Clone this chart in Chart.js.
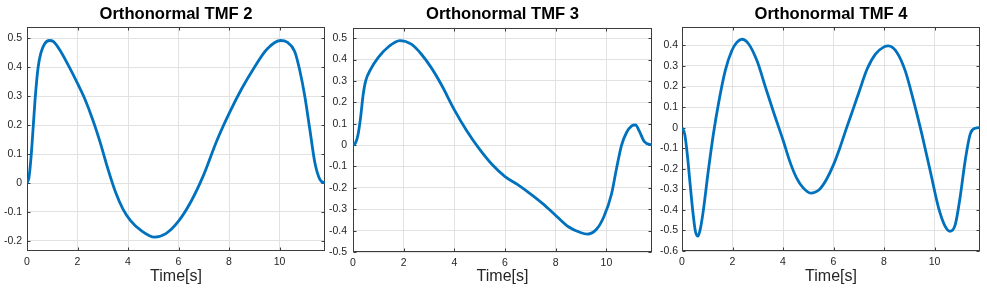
<!DOCTYPE html>
<html>
<head>
<meta charset="utf-8">
<title>Orthonormal TMF</title>
<script src="https://cdn.jsdelivr.net/npm/chart.js@4.4.1/dist/chart.umd.min.js"></script>
<style>
  html, body { margin: 0; padding: 0; background: #fff; }
  #wrap { position: relative; width: 987px; height: 295px; overflow: hidden; }
  canvas { position: absolute; top: 0; }
</style>
</head>
<body>
<div id="wrap">
  <canvas id="tmf2" width="329" height="295" style="left:0px"></canvas>
  <canvas id="tmf3" width="329" height="295" style="left:329px"></canvas>
  <canvas id="tmf4" width="329" height="295" style="left:658px"></canvas>
</div>
<script>
// Shared x axis (seconds)
const xTicks = [0, 2, 4, 6, 8, 10];
const xLimit = 11.8;

// TMF 2
const tmf2Time   = [0, 0.08, 0.17, 0.25, 0.33, 0.44, 0.55, 0.7, 0.88, 1.05, 1.3, 1.68, 2.0, 2.27, 2.6, 2.9, 3.2, 3.5, 3.8, 4.1, 4.5, 5.05, 5.5, 6.0, 6.5, 7.0, 7.5, 8.0, 8.5, 9.0, 9.5, 10.05, 10.3, 10.6, 10.8, 11.0, 11.2, 11.4, 11.6, 11.8];
const tmf2Values = [0, 0.02, 0.1, 0.2, 0.3, 0.4, 0.45, 0.482, 0.493, 0.489, 0.46, 0.4, 0.345, 0.295, 0.22, 0.14, 0.05, -0.03, -0.09, -0.13, -0.163, -0.187, -0.175, -0.132, -0.063, 0.029, 0.143, 0.24, 0.326, 0.40, 0.463, 0.493, 0.487, 0.455, 0.39, 0.30, 0.185, 0.07, 0.012, 0];
const tmf2YTicks = [-0.2, -0.1, 0, 0.1, 0.2, 0.3, 0.4, 0.5];

// TMF 3
const tmf3Time   = [0, 0.1, 0.2, 0.3, 0.4, 0.5, 0.7, 1.0, 1.4, 1.85, 2.3, 2.7, 3.1, 3.5, 4.0, 4.5, 5.0, 5.5, 6.0, 6.5, 7.0, 7.5, 8.0, 8.5, 9.0, 9.25, 9.6, 9.9, 10.2, 10.4, 10.6, 10.8, 11.0, 11.15, 11.3, 11.5, 11.8];
const tmf3Values = [0, 0.01, 0.05, 0.13, 0.235, 0.3, 0.355, 0.41, 0.46, 0.489, 0.472, 0.425, 0.36, 0.28, 0.165, 0.065, -0.02, -0.092, -0.147, -0.185, -0.228, -0.275, -0.329, -0.382, -0.41, -0.416, -0.395, -0.335, -0.23, -0.109, 0, 0.06, 0.09, 0.095, 0.065, 0.016, 0];
const tmf3YTicks = [-0.5, -0.4, -0.3, -0.2, -0.1, 0, 0.1, 0.2, 0.3, 0.4, 0.5];

// TMF 4
const tmf4Time   = [0, 0.11, 0.21, 0.31, 0.44, 0.53, 0.63, 0.72, 0.84, 1.04, 1.24, 1.44, 1.71, 1.97, 2.17, 2.37, 2.64, 2.97, 3.31, 3.64, 4.0, 4.3, 4.54, 4.8, 5.1, 5.46, 5.73, 6.0, 6.26, 6.52, 6.79, 7.0, 7.33, 7.66, 8.0, 8.17, 8.51, 8.84, 9.17, 9.5, 9.83, 10.16, 10.42, 10.62, 10.82, 11.01, 11.21, 11.41, 11.61, 11.8];
const tmf4Values = [0, -0.033, -0.13, -0.26, -0.42, -0.504, -0.528, -0.496, -0.407, -0.211, -0.033, 0.114, 0.276, 0.374, 0.415, 0.43, 0.407, 0.325, 0.195, 0.07, -0.06, -0.175, -0.245, -0.293, -0.318, -0.298, -0.25, -0.18, -0.095, 0, 0.095, 0.17, 0.285, 0.358, 0.393, 0.398, 0.366, 0.276, 0.13, -0.033, -0.211, -0.39, -0.48, -0.504, -0.472, -0.341, -0.163, -0.033, -0.003, 0];
const tmf4YTicks = [-0.6, -0.5, -0.4, -0.3, -0.2, -0.1, 0, 0.1, 0.2, 0.3, 0.4];

const lineColor = '#0072BD';
const axisColor = '#3c3c3c';
const gridColor = '#e2e2e2';
const textColor = '#262626';

Chart.defaults.font.family = "'Liberation Sans', Arial, Helvetica, sans-serif";

// MATLAB style box with inward tick marks on all four sides
const boxPlugin = {
    id: 'matlabBox',
    beforeDatasetsDraw(chart) {
        const { ctx, chartArea: a, scales: { x, y } } = chart;
        const L = Math.round(a.left) + 0.5, R = Math.round(a.right) - 0.5;
        const T = Math.round(a.top) + 0.5, B = Math.round(a.bottom) - 0.5;
        ctx.save();
        ctx.strokeStyle = axisColor;
        ctx.lineWidth = 1;
        ctx.beginPath();
        x.ticks.forEach(t => {
            const px = Math.round(x.getPixelForValue(t.value)) + 0.5;
            ctx.moveTo(px, B); ctx.lineTo(px, B - 3);
            ctx.moveTo(px, T); ctx.lineTo(px, T + 3);
        });
        y.ticks.forEach(t => {
            const py = Math.round(y.getPixelForValue(t.value)) + 0.5;
            ctx.moveTo(L, py); ctx.lineTo(L + 3, py);
            ctx.moveTo(R, py); ctx.lineTo(R - 3, py);
        });
        ctx.stroke();
        ctx.strokeRect(L, T, R - L, B - T);
        ctx.restore();
    }
};

function makePanel(id, title, time, values, yTicks, yMin, yMax, opt) {
    const points = time.map((t, i) => ({ x: t, y: values[i] }));
    return new Chart(document.getElementById(id), {
        type: 'line',
        data: {
            datasets: [{
                data: points,
                borderColor: lineColor,
                borderWidth: 2.8,
                pointRadius: 0,
                cubicInterpolationMode: 'monotone',
                fill: false
            }]
        },
        options: {
            responsive: false,
            animation: false,
            layout: { padding: { top: opt.top, right: opt.right, bottom: 0, left: 0 } },
            plugins: {
                legend: { display: false },
                tooltip: { enabled: false },
                title: {
                    display: true,
                    text: title,
                    fullSize: false,
                    color: '#000',
                    font: { size: 16.6, weight: 'bold' },
                    padding: { top: 4, bottom: 3 }
                }
            },
            scales: {
                x: {
                    type: 'linear',
                    min: 0,
                    max: xLimit,
                    afterBuildTicks: s => { s.ticks = xTicks.map(v => ({ value: v })); },
                    afterFit: s => { s.height = opt.xHeight; },
                    grid: { color: gridColor, drawTicks: false },
                    border: { display: false },
                    ticks: {
                        color: textColor,
                        font: { size: 10.5 },
                        padding: 5,
                        maxRotation: 0,
                        autoSkip: false
                    },
                    title: {
                        display: true,
                        text: 'Time[s]',
                        color: textColor,
                        font: { size: 16 },
                        padding: { top: 0, bottom: 9 }
                    }
                },
                y: {
                    type: 'linear',
                    min: yMin,
                    max: yMax,
                    afterBuildTicks: s => { s.ticks = yTicks.map(v => ({ value: v })); },
                    afterFit: s => { s.width = opt.yWidth; },
                    grid: { color: gridColor, drawTicks: false },
                    border: { display: false },
                    ticks: {
                        color: textColor,
                        font: { size: 10.5 },
                        padding: opt.labelPad,
                        autoSkip: false,
                        callback: v => String(+v.toFixed(1))
                    }
                }
            }
        },
        plugins: [boxPlugin]
    });
}

makePanel('tmf2', 'Orthonormal TMF 2', tmf2Time, tmf2Values, tmf2YTicks, -0.235, 0.54,
    { yWidth: 27, right: 4, top: 0, xHeight: 44, labelPad: 5 });
makePanel('tmf3', 'Orthonormal TMF 3', tmf3Time, tmf3Values, tmf3YTicks, -0.5, 0.55,
    { yWidth: 24, right: 6, top: 0.6, xHeight: 43, labelPad: 6 });
makePanel('tmf4', 'Orthonormal TMF 4', tmf4Time, tmf4Values, tmf4YTicks, -0.6, 0.49,
    { yWidth: 24, right: 7, top: 0, xHeight: 44, labelPad: 4 });
</script>
</body>
</html>
